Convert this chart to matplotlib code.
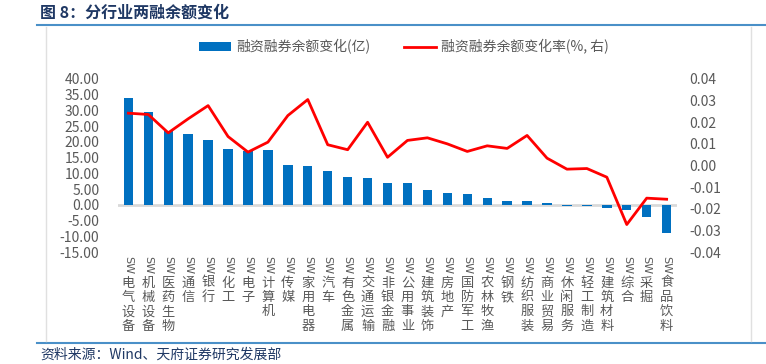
import matplotlib
matplotlib.use("Agg")
import matplotlib.pyplot as plt
from matplotlib.lines import Line2D
from matplotlib.patches import Patch
import matplotlib.transforms as mtransforms

plt.rcParams['font.family'] = ['Noto Sans CJK SC', 'DejaVu Sans']
plt.rcParams['axes.unicode_minus'] = False

categories = ["电气设备", "机械设备", "医药生物", "通信", "银行", "化工", "电子", "计算机",
              "传媒", "家用电器", "汽车", "有色金属", "交通运输", "非银金融", "公用事业",
              "建筑装饰", "房地产", "国防军工", "农林牧渔", "钢铁", "纺织服装", "商业贸易",
              "休闲服务", "轻工制造", "建筑材料", "综合", "采掘", "食品饮料"]
balance_change = [34.0, 29.4, 23.4, 22.4, 20.7, 17.8, 17.2, 17.3,
                  12.6, 12.2, 10.9, 8.9, 8.5, 7.0, 7.0,
                  4.8, 3.7, 3.4, 2.3, 1.2, 1.1, 0.7,
                  -0.3, -0.4, -1.0, -1.8, -3.9, -8.9]
change_rate = [0.0242, 0.0236, 0.0151, 0.0216, 0.0277, 0.0134, 0.0062, 0.0108,
               0.0231, 0.0305, 0.0096, 0.0073, 0.0200, 0.0038, 0.0116,
               0.0128, 0.0100, 0.0065, 0.0091, 0.0079, 0.0139, 0.0034,
               -0.0017, -0.0014, -0.0054, -0.0273, -0.0151, -0.0156]
left_ticks = [40, 35, 30, 25, 20, 15, 10, 5, 0, -5, -10, -15]
right_ticks = [0.04, 0.03, 0.02, 0.01, 0.00, -0.01, -0.02, -0.03, -0.04]
title = "图 8：分行业两融余额变化"
source = "资料来源：Wind、天府证券研究发展部"
legend_labels = ["融资融券余额变化(亿)", "融资融券余额变化率(%, 右)"]

W, H = 766, 364
fig = plt.figure(figsize=(W / 100, H / 100), dpi=100)
ax = fig.add_axes([118 / W, 1 - 252 / H, (677 - 118) / W, (252 - 79) / H])
ax2 = ax.twinx()

bar_color = "#0070C0"
line_color = "#FF0000"
tick_color = "#595959"

x = list(range(len(categories)))
ax.bar(x, balance_change, width=0.47, color=bar_color, zorder=2)
ax.axhline(0, color="#D9D9D9", lw=2, zorder=1)
ax.set_ylim(-15, 40)
ax.set_yticks(left_ticks)
ax.set_yticklabels([f"{t:.2f}" for t in left_ticks], color=tick_color, fontsize=10)
ax.set_xlim(-0.52, len(categories) - 0.48)
ax.set_xticks([])

ax2.plot(x, change_rate, color=line_color, lw=2, zorder=3)
ax2.set_ylim(-0.04, 0.04)
ax2.set_yticks(right_ticks)
ax2.set_yticklabels([f"{t:.2f}" for t in right_ticks], color=tick_color, fontsize=10)

for a in (ax, ax2):
    for s in a.spines.values():
        s.set_visible(False)
    a.tick_params(length=0)
ax.tick_params(axis='y', pad=13.5)
ax2.tick_params(axis='y', pad=9)

# vertical category labels
trans = mtransforms.blended_transform_factory(ax.transData, fig.transFigure)
for i, name in enumerate(categories):
    ax.text(i, 1 - 265 / H, "SW", rotation=-90, ha='center', va='center',
            fontsize=8, color=tick_color, transform=trans, family='DejaVu Sans')
    for j, ch in enumerate(name):
        ax.text(i, 1 - (283 + 14.4 * j) / H, ch, ha='center', va='center',
                fontsize=9.5, color=tick_color, transform=trans)

# legend
handles = [Patch(facecolor=bar_color, edgecolor='none'),
           Line2D([0], [0], color=line_color, lw=2)]
fig.legend(handles, legend_labels, loc='center', bbox_to_anchor=(404 / W, 1 - 47 / H),
           ncol=2, frameon=False, fontsize=10, labelcolor=tick_color,
           handlelength=2.3, handleheight=0.6, columnspacing=2.4, handletextpad=0.4)

# title and frame lines
fig.text(40 / W, 1 - 13 / H, title, fontsize=11.5, fontweight='bold', color="#1F3864",
         ha='left', va='center')
fig.add_artist(Line2D([37 / W, 1], [1 - 25 / H, 1 - 25 / H], color="#4A90C8", lw=1.5))
fig.add_artist(Line2D([37 / W, 1], [1 - 343 / H, 1 - 343 / H], color="#4A90C8", lw=1.5))
fig.add_artist(Line2D([45.5 / W, 45.5 / W], [1 - 27 / H, 1 - 341 / H], color="#E0E0E0", lw=1))
fig.add_artist(Line2D([751 / W, 751 / W], [1 - 27 / H, 1 - 341 / H], color="#E0E0E0", lw=1))
fig.text(40 / W, 1 - 355 / H, source, fontsize=10, color="#1F3864", ha='left', va='center')

fig.savefig("out.png", dpi=100)
